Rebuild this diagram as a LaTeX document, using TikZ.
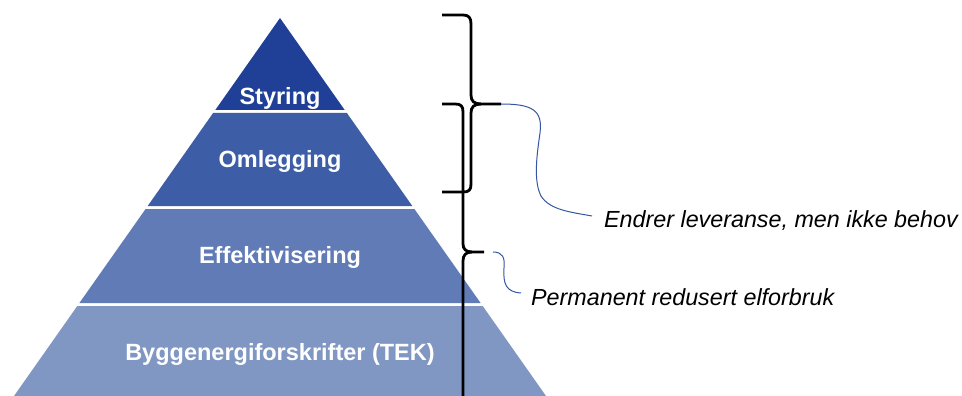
\documentclass[tikz,border=0pt]{standalone}
\usepackage{fontspec}
\setmainfont{Liberation Sans}
\definecolor{bandA}{HTML}{1F4096}
\definecolor{bandB}{HTML}{3D5DA7}
\definecolor{bandC}{HTML}{607BB6}
\definecolor{bandD}{HTML}{8097C4}
\definecolor{callout}{HTML}{3556A3}
\begin{document}
\begin{tikzpicture}[x=1pt,y=-1pt,
  bandlabel/.style={font=\fontsize{23.5}{26}\selectfont\bfseries, text=white, inner sep=0pt, anchor=base},
  notelabel/.style={font=\fontsize{23.3}{26}\selectfont\itshape, text=black, inner sep=0pt, anchor=base west},
  bracepath/.style={line width=2.8pt, draw=black, line cap=butt, line join=round},
  calloutline/.style={draw=callout, line width=1pt}]
\useasboundingbox (0,0) rectangle (962,396);
\fill[white] (0,0) rectangle (962,396);
% pyramid bands
\fill[bandA] (280,18) -- (344.7,110) -- (215.3,110) -- cycle;
\fill[bandB] (213.1,113) -- (346.9,113) -- (412.3,206) -- (147.7,206) -- cycle;
\fill[bandC] (145.6,209) -- (414.4,209) -- (480.6,303) -- (79.4,303) -- cycle;
\fill[bandD] (77.3,306) -- (482.7,306) -- (546,396) -- (14,396) -- cycle;
% band labels
\node[bandlabel] (styring) at (280,105) {Styring};
\node[bandlabel] (omlegging) at (280,167) {Omlegging};
\node[bandlabel] (effekt) at (280,263) {Effektivisering};
\node[bandlabel] (tek) at (280,360) {Byggenergiforskrifter (TEK)};
% braces
\coordinate (tipA) at (501,104);
\coordinate (tipB) at (484,252);
\draw[bracepath] (442,15) -- (463,15) .. controls (469,15) and (471,18) .. (471,24) -- (471,95)
  .. controls (471,101) and (474,104) .. (481,104) -- (tipA);
\draw[bracepath] (481,104) .. controls (474,104) and (471,107) .. (471,113) -- (471,184)
  .. controls (471,190) and (469,192) .. (463,192) -- (442,192);
\draw[bracepath] (442,104) -- (455,104) .. controls (461,104) and (463,106) .. (463,112) -- (463,244)
  .. controls (463,249) and (466,252) .. (472,252) -- (tipB);
\draw[bracepath] (472,252) .. controls (466,252) and (463,255) .. (463,261) -- (463,400);
% notes
\node[notelabel] (endrer) at (604,227) {Endrer leveranse, men ikke behov};
\node[notelabel] (perm) at (531,305) {Permanent redusert elforbruk};
\coordinate (endA) at (592,216);
\coordinate (endB) at (521,293);
\coordinate (startB) at (493,252);
% callouts
\draw[calloutline] (tipA) .. controls (532,104) and (543,110) .. (540,133)
  .. controls (536,160) and (534,182) .. (541,196)
  .. controls (550,210) and (570,212) .. (endA);
\draw[calloutline] (startB) .. controls (503,252) and (505,258) .. (504,268)
  .. controls (503,284) and (506,292) .. (endB);
\end{tikzpicture}
\end{document}
